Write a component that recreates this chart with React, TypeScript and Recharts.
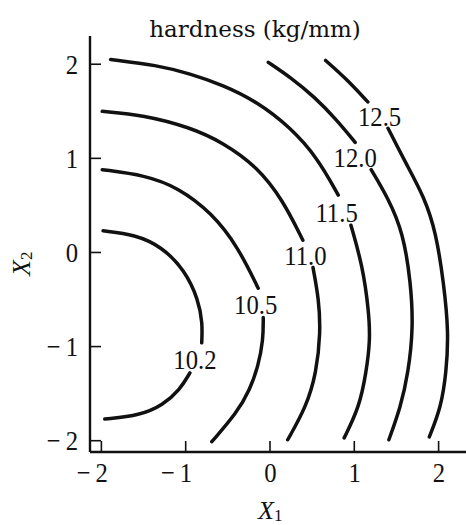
import { LineChart, Line, XAxis, YAxis, ReferenceDot } from "recharts";

type Pt = { x: number; y: number | null };

const SERIF = "'Liberation Serif', 'Times New Roman', serif";
const INK = "#111";

// contour levels, inner to outer
const levels = ["10.2", "10.5", "11.0", "11.5", "12.0", "12.5"];

// each contour is split where its level label sits (y: null breaks the line)
const c102: Pt[] = [
  { x: -1.98, y: 0.23 }, { x: -1.6, y: 0.19 }, { x: -1.28, y: 0.06 }, { x: -1.01, y: -0.19 },
  { x: -0.85, y: -0.5 }, { x: -0.8, y: -0.75 }, { x: -0.81, y: -0.96 },
  { x: -0.9, y: null },
  { x: -0.95, y: -1.28 }, { x: -1.07, y: -1.46 }, { x: -1.27, y: -1.62 }, { x: -1.54, y: -1.73 },
  { x: -1.96, y: -1.77 },
];
const c105: Pt[] = [
  { x: -1.99, y: 0.88 }, { x: -1.48, y: 0.82 }, { x: -1.09, y: 0.69 }, { x: -0.69, y: 0.42 },
  { x: -0.38, y: 0.06 }, { x: -0.14, y: -0.38 },
  { x: -0.1, y: null },
  { x: -0.08, y: -0.69 }, { x: -0.08, y: -0.93 }, { x: -0.14, y: -1.21 }, { x: -0.24, y: -1.46 },
  { x: -0.39, y: -1.7 }, { x: -0.69, y: -2.01 },
];
const c110: Pt[] = [
  { x: -1.99, y: 1.5 }, { x: -1.5, y: 1.46 }, { x: -0.95, y: 1.33 }, { x: -0.56, y: 1.17 },
  { x: -0.15, y: 0.91 }, { x: 0.15, y: 0.56 }, { x: 0.39, y: 0.13 },
  { x: 0.45, y: null },
  { x: 0.51, y: -0.16 }, { x: 0.58, y: -0.5 }, { x: 0.6, y: -0.85 }, { x: 0.55, y: -1.28 },
  { x: 0.43, y: -1.64 }, { x: 0.21, y: -1.99 },
];
const c115: Pt[] = [
  { x: -1.89, y: 2.05 }, { x: -1.34, y: 1.99 }, { x: -0.95, y: 1.9 }, { x: -0.56, y: 1.78 },
  { x: -0.15, y: 1.6 }, { x: 0.24, y: 1.33 }, { x: 0.56, y: 1.01 }, { x: 0.81, y: 0.61 },
  { x: 0.88, y: null },
  { x: 0.96, y: 0.29 }, { x: 1.1, y: -0.15 }, { x: 1.17, y: -0.61 }, { x: 1.19, y: -0.93 },
  { x: 1.14, y: -1.28 }, { x: 1.06, y: -1.64 }, { x: 0.88, y: -1.97 },
];
const c120: Pt[] = [
  { x: -0.02, y: 2.02 }, { x: 0.26, y: 1.85 }, { x: 0.53, y: 1.65 }, { x: 0.78, y: 1.42 },
  { x: 1.01, y: 1.17 },
  { x: 1.1, y: null },
  { x: 1.2, y: 0.88 }, { x: 1.4, y: 0.58 }, { x: 1.58, y: 0.21 }, { x: 1.67, y: -0.32 },
  { x: 1.7, y: -0.8 }, { x: 1.64, y: -1.28 }, { x: 1.55, y: -1.64 }, { x: 1.41, y: -1.99 },
];
const c125: Pt[] = [
  { x: 0.66, y: 2.04 }, { x: 0.9, y: 1.85 }, { x: 1.16, y: 1.6 },
  { x: 1.28, y: null },
  { x: 1.4, y: 1.32 }, { x: 1.61, y: 0.95 }, { x: 1.83, y: 0.59 }, { x: 1.97, y: 0.21 },
  { x: 2.06, y: -0.32 }, { x: 2.12, y: -0.85 }, { x: 2.09, y: -1.28 }, { x: 2.03, y: -1.64 },
  { x: 1.89, y: -1.96 },
];
const contours = [c102, c105, c110, c115, c120, c125];

// centre of each level label, in axis units
const labelX = [-0.89, -0.17, 0.42, 0.79, 1.01, 1.3];
const labelY = [-1.14, -0.55, -0.03, 0.43, 1.01, 1.44];

const xTicks = [-2, -1, 0, 1, 2];
const yTicks = [-2, -1, 0, 1, 2];

const tickText = (v: number) => (v < 0 ? `\u2212\u2009${-v}` : `${v}`);

// tall, slightly narrow numerals
function Num({ x, y, anchor, children }: { x: number; y: number; anchor: "start" | "middle" | "end"; children: string }) {
  return (
    <text
      transform={`translate(${x},${y}) scale(0.95,1.08)`} textAnchor={anchor}
      fontFamily={SERIF} fontSize={26} fill={INK}
    >
      {children}
    </text>
  );
}

function XTick({ x, y, payload }: any) {
  const v = payload.value as number;
  return (
    <g>
      <line x1={x} y1={y} x2={x} y2={y - 11} stroke={INK} strokeWidth={1.6} />
      <Num x={x + 6.5} y={y + 30} anchor="end">{tickText(v)}</Num>
    </g>
  );
}

function YTick({ x, y, payload }: any) {
  const v = payload.value as number;
  return (
    <g>
      <line x1={x} y1={y} x2={x + 11} y2={y} stroke={INK} strokeWidth={1.6} />
      <Num x={x - 12} y={y + 9.5} anchor="end">{tickText(v)}</Num>
    </g>
  );
}

export default function App() {
  return (
    <div style={{ position: "absolute", left: 0, top: 0, width: 466, height: 525, background: "#fff" }}>
      <LineChart width={466} height={525} margin={{ top: 36, right: 0, bottom: 72, left: 89 }}>
        <XAxis
          type="number" dataKey="x" domain={[-2.135, 2.325]} ticks={xTicks} interval={0}
          height={1} tickSize={0} tickMargin={0} tickLine={false} tick={<XTick />}
          axisLine={{ stroke: INK, strokeWidth: 2.4 }} allowDataOverflow
        />
        <YAxis
          type="number" dataKey="y" domain={[-2.12, 2.3]} ticks={yTicks} interval={0}
          width={1} tickSize={0} tickMargin={0} tickLine={false} tick={<YTick />}
          axisLine={{ stroke: INK, strokeWidth: 2.4 }} allowDataOverflow
        />
        {contours.map((d, i) => (
          <Line
            key={levels[i]} data={d} dataKey="y" type="basis" stroke={INK} strokeWidth={3.5}
            strokeLinecap="round" dot={false} activeDot={false} connectNulls={false}
            isAnimationActive={false}
          />
        ))}
        {levels.map((lv, i) => (
          <ReferenceDot
            key={"lbl" + lv} x={labelX[i]} y={labelY[i]} r={0}
            shape={(p: any) => <Num x={p.cx} y={p.cy + 9.5} anchor="middle">{lv}</Num>}
          />
        ))}
      </LineChart>
      <svg width={466} height={525} style={{ position: "absolute", left: 0, top: 0, pointerEvents: "none" }}>
        <text x={255} y={37} textAnchor="middle" fontFamily="'DejaVu Serif', serif" fontSize={23} fill={INK}>
          hardness (kg/mm)
        </text>
        <text x={258} y={519} fontFamily={SERIF} fontStyle="italic" fontSize={26} fill={INK}>
          X<tspan fontStyle="normal" fontSize={17} dy={1.5}>1</tspan>
        </text>
        <text transform="translate(30, 276) rotate(-90)" fontFamily={SERIF} fontStyle="italic" fontSize={26} fill={INK}>
          X<tspan fontStyle="normal" fontSize={17} dy={1.5}>2</tspan>
        </text>
      </svg>
    </div>
  );
}
